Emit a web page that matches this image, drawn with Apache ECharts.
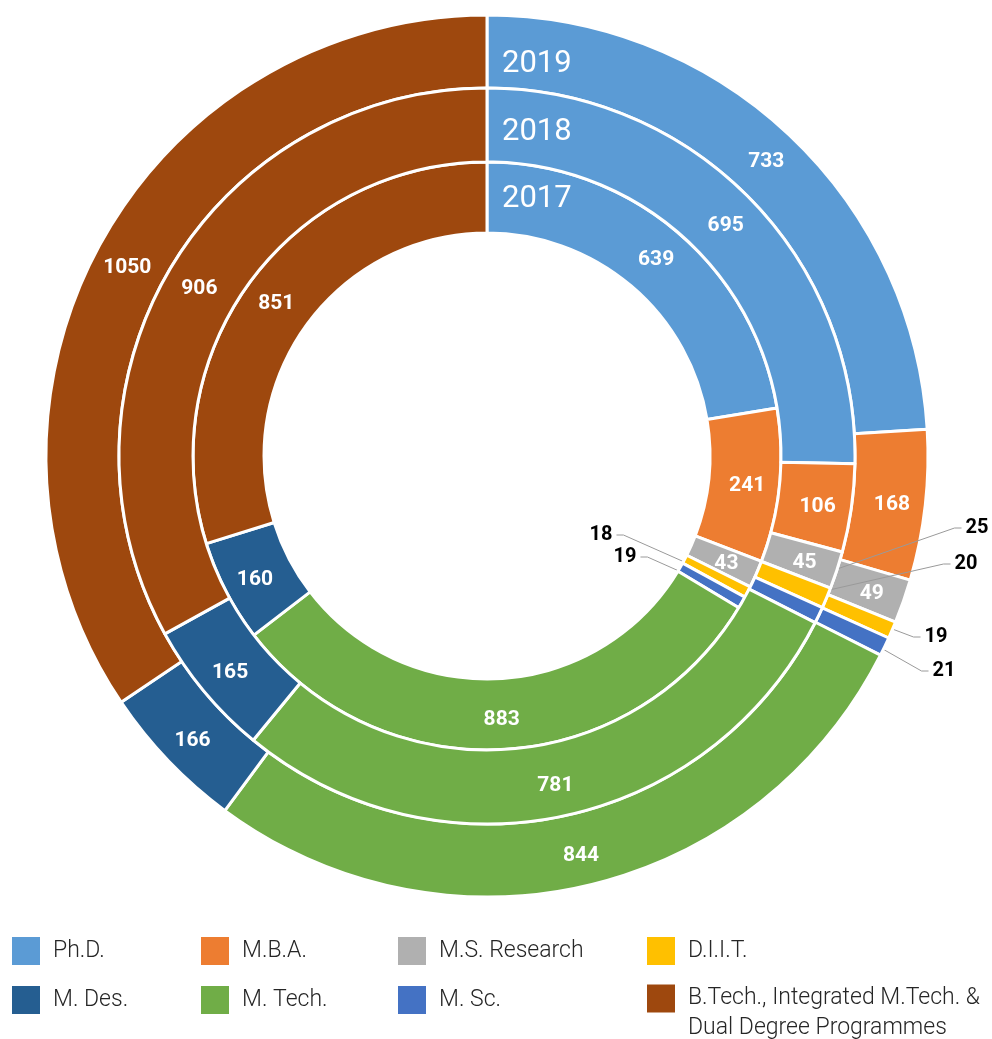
<!DOCTYPE html>
<html>
<head>
<meta charset="utf-8">
<script src="https://cdn.jsdelivr.net/npm/echarts@6/dist/echarts.min.js"></script>
<style>
html,body{margin:0;padding:0;background:#fff;}
#chart{width:992px;height:1039px;}
</style>
</head>
<body>
<div id="chart"></div>
<script>
// ---- data ----
var categories = ['Ph.D.', 'M.B.A.', 'M.S. Research', 'D.I.I.T.', 'M. Sc.', 'M. Tech.', 'M. Des.', 'B.Tech., Integrated M.Tech. & Dual Degree Programmes'];
var years = ['2017', '2018', '2019'];
var values2017 = [639, 241, 43, 18, 19, 883, 160, 851];
var values2018 = [695, 106, 45, 25, 20, 781, 165, 906];
var values2019 = [733, 168, 49, 19, 21, 844, 166, 1050];
var colors = ['#5B9BD5', '#ED7D31', '#B0B0B0', '#FFC000', '#4472C4', '#70AD47', '#255E91', '#9E480E'];

// ---- layout ----
var CX = 487, CY = 456;
var rings = [[223, 294], [294, 368], [368, 441]];
var smallIdx = [3, 4];
// outside label placement (label centers) for the thin slices
var outsideLabelPos = [
  {3: [601, 535], 4: [625, 557]},
  {3: [977, 528], 4: [966, 564]},
  {3: [936, 637], 4: [944, 671]}
];
var yearLabelPos = [[502, 196], [502, 129.5], [502, 61.5]];

var chart = echarts.init(document.getElementById('chart'), null, {renderer: 'canvas'});
var FONT = 'Roboto';

function buildData(vals) {
  return vals.map(function (v, i) {
    var item = {name: categories[i], value: v};
    if (smallIdx.indexOf(i) >= 0) {
      item.label = {position: 'outside', color: '#000', fontSize: 20, fontWeight: 'bold', offset: [0, 0]};
      item.labelLine = {show: true};
    }
    return item;
  });
}

var allVals = [values2017, values2018, values2019];
var series = allVals.map(function (vals, si) {
  return {
    type: 'pie',
    name: years[si],
    z: si === 1 ? 3 : 2,
    center: [CX, CY],
    radius: rings[si],
    startAngle: 90,
    clockwise: true,
    avoidLabelOverlap: false,
    animation: false,
    itemStyle: {borderColor: '#fff', borderWidth: 3},
    label: {
      show: true,
      position: 'inside',
      formatter: '{c}',
      color: '#fff',
      fontFamily: FONT,
      fontSize: 21,
      fontWeight: 'bold',
      offset: [0, 3]
    },
    labelLine: {show: false, smooth: false, lineStyle: {color: '#9a9a9a', width: 1}},
    labelLayout: function (params) {
      var pos = outsideLabelPos[si][params.dataIndex];
      if (!pos) {
        return {};
      }
      var r = params.rect;
      var sx = r.x + r.width / 2, sy = r.y + r.height / 2;
      var w = params.labelRect.width;
      var side = pos[0] < sx ? 1 : -1;
      var ex = pos[0] + side * (w / 2 + 4);
      var bx = ex + side * 7;
      return {
        x: pos[0], y: pos[1], align: 'center', verticalAlign: 'middle',
        labelLinePoints: [[sx, sy], [bx, pos[1]], [ex, pos[1]]]
      };
    },
    emphasis: {disabled: true},
    data: buildData(vals)
  };
});

var legendTextStyle = {fontFamily: FONT, fontSize: 23, fontWeight: 300, color: '#262626', padding: [0, 0, 0, 7]};
var legendCols = [
  {left: 10, top: 935, names: [categories[0], categories[6]]},
  {left: 199, top: 935, names: [categories[1], categories[5]]},
  {left: 396, top: 935, names: [categories[2], categories[4]]},
  {left: 645, top: 935, names: [categories[3]]},
  {left: 645, top: 957, names: [categories[7]], wrap: true}
];
var legends = legendCols.map(function (col) {
  var lg = {
    orient: 'vertical',
    left: col.left,
    top: col.top,
    padding: 0,
    itemWidth: 30,
    itemHeight: 30,
    itemGap: 17,
    icon: 'rect',
    selectedMode: false,
    textStyle: legendTextStyle,
    data: col.names.slice()
  };
  if (col.wrap) {
    lg.formatter = function (name) {
      var parts = name.split(' & ');
      return '{s| }\n{t|' + parts[0] + ' &}\n{t|' + parts[1] + '}';
    };
    lg.textStyle = {
      fontFamily: FONT, fontSize: 23, fontWeight: 300, color: '#262626', padding: [0, 0, 0, 7],
      rich: {
        s: {fontSize: 23, lineHeight: 30, fontFamily: FONT},
        t: {fontSize: 23, lineHeight: 30, fontWeight: 300, color: '#262626', fontFamily: FONT}
      }
    };
  }
  return lg;
});

var graphics = years.map(function (y, i) {
  return {
    type: 'text',
    left: yearLabelPos[i][0],
    top: yearLabelPos[i][1] - 12.5,
    z: 100,
    style: {text: y, fill: '#fff', font: 'normal 31px ' + FONT}
  };
});

chart.setOption({
  animation: false,
  color: colors,
  textStyle: {fontFamily: FONT},
  legend: legends,
  graphic: graphics,
  series: series
});
</script>
</body>
</html>
